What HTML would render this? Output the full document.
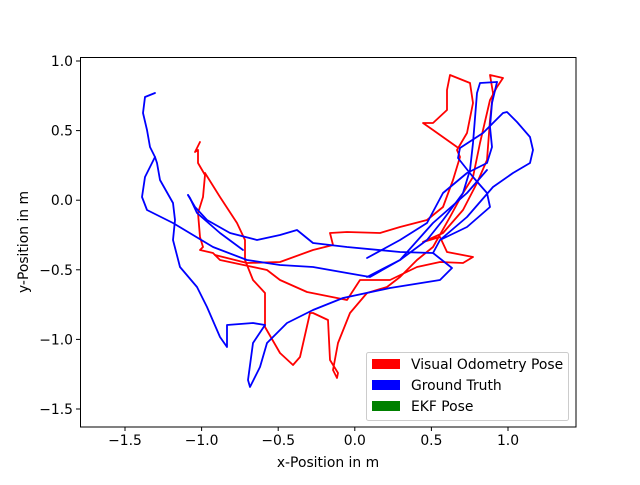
<!DOCTYPE html>
<html><head><meta charset="utf-8"><style>
body{margin:0;background:#fff}
svg text{font-family:"DejaVu Sans","Liberation Sans",sans-serif;font-size:13.9px;fill:#000}
</style></head><body>
<svg width="640" height="480" xmlns="http://www.w3.org/2000/svg">
<rect width="640" height="480" fill="#fff"/>
<g fill="none" stroke-width="1.8" stroke-linejoin="round" stroke-linecap="round">
<g stroke="#ff0000">
<polyline points="200,142 195,152 198,150 198,163 205,175 203,197 198,213 200,237 203,247 200,250 213,253 220,260 253,267 267,270 280,280 307,292 347,300 360,280 380,280 390,280 417,267 440,262 463,263 473,257 447,252 440,237 423,242 443,233 463,210 477,183 487,160 490,120 493,93 490,75 503,78 497,87 490,100 480,143 473,177 463,193 450,217 433,247 417,260 400,277 387,287 367,293 350,313 338,343 333,370 337,378 338,373 330,360 328,320 313,313 310,313 300,357 293,365 280,353 265,327 265,293 253,280 245,260 245,240 237,223 220,197 205,173"/>
<polyline points="215,255 247,263 280,262 313,250 333,245 330,233 347,232 380,233 400,227 427,220 443,207 453,180 460,157 457,150 467,133 473,103 470,83 450,75 447,90 447,110 433,123 423,123 433,130 457,147"/>
</g>
<g stroke="#0000ff">
<polyline points="155,93 145,97 143,113 147,130 150,147 155,157 145,177 142,197 147,210 173,223 213,247 247,260 280,265 313,267 347,273 370,277 400,260 433,223 467,193 487,170"/>
<polyline points="155,157 157,163 160,180 173,203 175,220 173,240 180,267 197,287 207,307 220,337 227,347 227,325 253,323 265,325 253,343 248,380 250,387 260,367 267,343 287,323 313,310 343,298 390,288 440,280 452,268 433,253 440,240 467,227 490,207 487,193 473,177 458,158 460,148 483,133 503,113 507,112 517,122 530,137 533,150 530,163 513,173 493,187 467,217 440,240"/>
<polyline points="497,82 480,83 477,93 473,143 470,170 463,193 443,220 427,240 400,260 367,277"/>
<polyline points="497,82 492,103 490,127 492,147 487,163 467,173 443,193 427,223 400,240 367,258"/>
<polyline points="188,195 195,207 207,220 230,233 257,240 280,235 297,230 313,243 347,247 400,252 433,253"/>
<polyline points="188,195 190,198 197,213 220,233 243,250"/>
</g>
</g>
<rect x="80.5" y="57.5" width="495.5" height="369.5" fill="none" stroke="#000" stroke-width="1"/>
<g stroke="#000" stroke-width="1">
<line x1="125" y1="427" x2="125" y2="431"/><line x1="201.6" y1="427" x2="201.6" y2="431"/><line x1="278.2" y1="427" x2="278.2" y2="431"/><line x1="354.8" y1="427" x2="354.8" y2="431"/><line x1="431.4" y1="427" x2="431.4" y2="431"/><line x1="508" y1="427" x2="508" y2="431"/>
<line x1="76" y1="61" x2="80" y2="61"/><line x1="76" y1="130.6" x2="80" y2="130.6"/><line x1="76" y1="200.2" x2="80" y2="200.2"/><line x1="76" y1="269.8" x2="80" y2="269.8"/><line x1="76" y1="339.4" x2="80" y2="339.4"/><line x1="76" y1="409" x2="80" y2="409"/>
</g>
<g text-anchor="middle">
<text x="125" y="445">−1.5</text><text x="201.6" y="445">−1.0</text><text x="278.2" y="445">−0.5</text><text x="354.8" y="445">0.0</text><text x="431.4" y="445">0.5</text><text x="508" y="445">1.0</text>
<text x="328" y="467">x-Position in m</text>
</g>
<g text-anchor="end">
<text x="73" y="66">1.0</text><text x="73" y="135.6">0.5</text><text x="73" y="205.2">0.0</text><text x="73" y="274.8">−0.5</text><text x="73" y="344.4">−1.0</text><text x="73" y="414">−1.5</text>
</g>
<text transform="translate(28,242) rotate(-90)" text-anchor="middle">y-Position in m</text>
<rect x="366.5" y="352.5" width="202" height="68" rx="2" fill="#fff" fill-opacity="0.8" stroke="#ccc"/>
<rect x="372" y="359" width="28" height="10" fill="#ff0000"/>
<rect x="372" y="380" width="28" height="10" fill="#0000ff"/>
<rect x="372" y="401" width="28" height="10" fill="#008000"/>
<text x="411" y="369">Visual Odometry Pose</text>
<text x="411" y="390">Ground Truth</text>
<text x="411" y="411">EKF Pose</text>
</svg>
</body></html>
